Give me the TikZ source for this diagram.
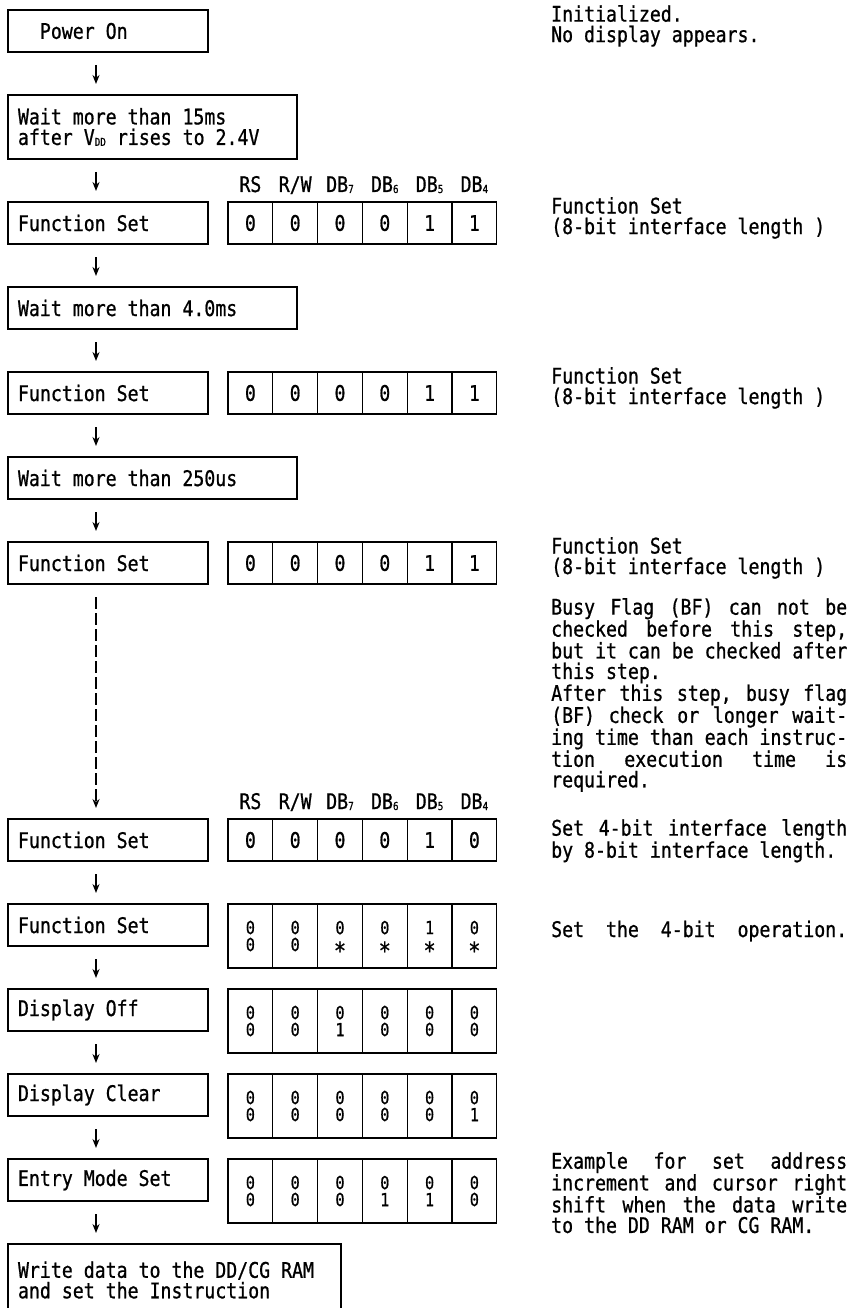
\documentclass[tikz,border=0pt]{standalone}
\usepackage{fontspec}
\newfontfamily\lcdfont[FakeStretch=0.847, FakeBold=0.8]{DejaVu Sans Mono}
\usepackage{tikz}
\usetikzlibrary{
  arrows.meta,
  positioning,
  calc
}
\newcommand{\bsub}[1]{\raisebox{-1pt}{\fontsize{11}{11}\selectfont #1}}
\newcommand{\jline}[1]{\fontdimen3\font=6pt\relax\makebox[296pt][s]{#1}}
\newcommand{\dc}{\smash{\raisebox{-8pt}{\fontsize{24}{24}\selectfont *}}}

\begin{document}
\begin{tikzpicture}[
  x=1pt, y=1pt,
  node distance=43pt,
  font=\lcdfont\fontsize{21.5}{20.5}\selectfont,
  stepbox/.style={
    draw,
    line width=1.2pt,
    outer sep=0pt,
    inner xsep=10pt,
    inner ysep=0pt,
    align=flush left,
    text width=180pt,
    minimum height=42pt,
    anchor=north west
  },
  next/.style={below=of #1, anchor=north west},
  bit/.style={
    draw,
    line width=1.2pt,
    outer sep=0pt,
    inner sep=0pt,
    minimum width=44.8pt,
    minimum height=42pt,
    anchor=north west
  },
  bitpair/.style={bit, minimum height=64pt, align=center, font=\lcdfont\fontsize{18}{17}\selectfont},
  hdr/.style={anchor=base, inner sep=0pt},
  note/.style={anchor=north west, inner sep=0pt, align=left},
  flow/.style={-{Stealth[length=9pt,width=7pt]}, line width=1.5pt, shorten <=13pt, shorten >=11pt}
]
\useasboundingbox[fill=white] (0,0) rectangle (859,-1308);
\coordinate (col) at (96,0);
\coordinate (notes) at (551,0);

% left column
\node[stepbox] (pwr) at (8,-10) {~~Power On};
\node[stepbox, text width=269pt, minimum height=64pt, next=pwr.south west] (wait15) {Wait more than 15ms\\after V\bsub{DD} rises to 2.4V};
\node[stepbox, next=wait15.south west] (fset1) {Function Set};
\node[stepbox, text width=269pt, next=fset1.south west] (wait4) {Wait more than 4.0ms};
\node[stepbox, next=wait4.south west] (fset2) {Function Set};
\node[stepbox, text width=269pt, next=fset2.south west] (wait250) {Wait more than 250us};
\node[stepbox, next=wait250.south west] (fset3) {Function Set};
\node[stepbox, below=235pt of fset3.south west, anchor=north west] (fset4) {Function Set};
\node[stepbox, next=fset4.south west] (fset5) {Function Set};
\node[stepbox, next=fset5.south west] (dispoff) {Display Off};
\node[stepbox, next=dispoff.south west] (dispclr) {Display Clear};
\node[stepbox, next=dispclr.south west] (entry) {Entry Mode Set};
\node[stepbox, text width=313pt, minimum height=72pt, next=entry.south west] (write) {Write data to the DD/CG RAM\\and set the Instruction};

% bit tables
\foreach \v [count=\i] in {0,0,0,0,1,1}
  \node[bit] (fset1-\i) at ($(fset1.north east)+(44.8*\i-24.8,0)$) {\v};
\foreach \v [count=\i] in {0,0,0,0,1,1}
  \node[bit] (fset2-\i) at ($(fset2.north east)+(44.8*\i-24.8,0)$) {\v};
\foreach \v [count=\i] in {0,0,0,0,1,1}
  \node[bit] (fset3-\i) at ($(fset3.north east)+(44.8*\i-24.8,0)$) {\v};
\foreach \v [count=\i] in {0,0,0,0,1,0}
  \node[bit] (fset4-\i) at ($(fset4.north east)+(44.8*\i-24.8,0)$) {\v};
\foreach \a/\b [count=\i] in {0/0,0/0,0/\dc,0/\dc,1/\dc,0/\dc}
  \node[bitpair] (fset5-\i) at ($(fset5.north east)+(44.8*\i-24.8,0)$) {\a\\\b};
\foreach \a/\b [count=\i] in {0/0,0/0,0/1,0/0,0/0,0/0}
  \node[bitpair] (dispoff-\i) at ($(dispoff.north east)+(44.8*\i-24.8,0)$) {\a\\\b};
\foreach \a/\b [count=\i] in {0/0,0/0,0/0,0/0,0/0,0/1}
  \node[bitpair] (dispclr-\i) at ($(dispclr.north east)+(44.8*\i-24.8,0)$) {\a\\\b};
\foreach \a/\b [count=\i] in {0/0,0/0,0/0,0/1,0/1,0/0}
  \node[bitpair] (entry-\i) at ($(entry.north east)+(44.8*\i-24.8,0)$) {\a\\\b};

% column headings
\foreach \h [count=\i] in {RS,{R/W},DB\bsub{7},DB\bsub{6},DB\bsub{5},DB\bsub{4}}
  \node[hdr] (hdrA-\i) at ([yshift=10pt]fset1-\i.north) {\h};
\foreach \h [count=\i] in {RS,{R/W},DB\bsub{7},DB\bsub{6},DB\bsub{5},DB\bsub{4}}
  \node[hdr] (hdrB-\i) at ([yshift=10pt]fset4-\i.north) {\h};

% arrows
\draw[flow] (pwr.south -| col) -- (wait15.north -| col);
\draw[flow] (wait15.south -| col) -- (fset1.north -| col);
\draw[flow] (fset1.south -| col) -- (wait4.north -| col);
\draw[flow] (wait4.south -| col) -- (fset2.north -| col);
\draw[flow] (fset2.south -| col) -- (wait250.north -| col);
\draw[flow] (wait250.south -| col) -- (fset3.north -| col);
\draw[flow, dash pattern=on 12pt off 4pt, line width=1.8pt] (fset3.south -| col) -- (fset4.north -| col);
\draw[flow] (fset4.south -| col) -- (fset5.north -| col);
\draw[flow] (fset5.south -| col) -- (dispoff.north -| col);
\draw[flow] (dispoff.south -| col) -- (dispclr.north -| col);
\draw[flow] (dispclr.south -| col) -- (entry.north -| col);
\draw[flow] (entry.south -| col) -- (write.north -| col);

% notes on the right
\node[note] (nPwr) at ($(pwr.north -| notes)+(0,5)$) {Initialized.\\No display appears.};
\node[note] (nF1) at ($(fset1.north -| notes)+(0,5)$) {Function Set\\(8-bit interface length )};
\node[note] (nF2) at ($(fset2.north -| notes)+(0,5)$) {Function Set\\(8-bit interface length )};
\node[note] (nF3) at ($(fset3.north -| notes)+(0,5)$) {Function Set\\(8-bit interface length )};
\node[note] (nBusy) at ($(fset3.south -| notes)+(0,-14)$) {\jline{Busy Flag (BF) can not be}\\\jline{checked before this step,}\\but it can be checked after\\this step.\\\jline{After this step, busy flag}\\\jline{(BF) check or longer wait-}\\ing time than each instruc-\\\jline{tion execution time is}\\required.};
\node[note] (nF4) at (fset4.north -| notes) {\jline{Set 4-bit interface length}\\by 8-bit interface length.};
\node[note, anchor=base west] (nF5) at ($(fset5.west -| notes)+(0,-12)$) {\jline{Set the 4-bit operation.}};
\node[note] (nEntry) at ($(entry.north -| notes)+(0,7)$) {\jline{Example for set address}\\\jline{increment and cursor right}\\\jline{shift when the data write}\\to the DD RAM or CG RAM.};
\end{tikzpicture}
\end{document}
